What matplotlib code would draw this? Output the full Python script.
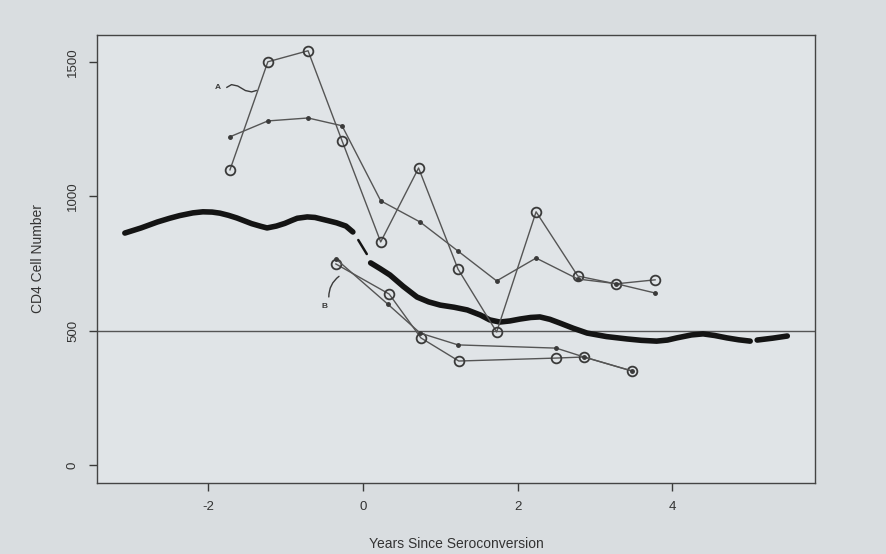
import matplotlib.pyplot as plt

plt.rcParams['font.family'] = ['Liberation Sans', 'DejaVu Sans']

# subject A: observed counts (circles) and smoothed fit (dots)
a_years = [-1.72, -1.23, -0.71, -0.27, 0.23, 0.72, 1.23, 1.73, 2.24, 2.78, 3.27, 3.78]
a_obs = [1098, 1500, 1541, 1206, 830, 1105, 729, 495, 942, 703, 674, 689]
a_fit_years = [-1.72, -1.23, -0.71, -0.27, 0.23, 0.74, 1.23, 1.73, 2.24, 2.78, 3.27, 3.78]
a_fit = [1221, 1280, 1291, 1262, 983, 904, 796, 685, 770, 692, 675, 640]

# subject B
b_years = [-0.35, 0.34, 0.75, 1.24, 2.50, 2.86, 3.48]
b_obs = [748, 636, 473, 387, 398, 402, 350]
b_fit_years = [-0.35, 0.32, 0.74, 1.23, 2.50, 2.86, 3.48]
b_fit = [767, 599, 491, 447, 435, 402, 350]

# population mean curve, before and after seroconversion
pre_x = [-3.08, -2.87, -2.66, -2.50, -2.37, -2.20, -2.07, -1.95, -1.85, -1.74, -1.63, -1.44, -1.32,
         -1.24, -1.12, -1.01, -0.92, -0.85, -0.72, -0.62, -0.55, -0.45, -0.34, -0.22, -0.13]
pre_y = [863, 882, 904, 918, 928, 938, 942, 941, 937, 929, 919, 898, 888, 882, 889, 899, 910, 918, 923,
         921, 916, 909, 901, 889, 867]
gap_x = [-0.06, 0.05]
gap_y = [837, 785]
post_x = [0.10, 0.22, 0.35, 0.52, 0.70, 0.85, 1.00, 1.18, 1.35, 1.52, 1.64, 1.77, 1.90, 2.03, 2.17, 2.29,
          2.42, 2.55, 2.72, 2.90, 3.15, 3.42, 3.60, 3.80, 3.94, 4.06, 4.25, 4.40, 4.55, 4.71, 4.86, 5.01]
post_y = [752, 731, 707, 665, 625, 607, 595, 587, 577, 558, 540, 532, 536, 543, 549, 551, 542, 528, 509,
          491, 478, 469, 464, 461, 465, 473, 484, 488, 482, 473, 466, 461]
tail_x = [5.10, 5.30, 5.49]
tail_y = [465, 472, 480]

threshold = 500

ink = '#3a3a3a'
fig = plt.figure(figsize=(8.86, 5.54), dpi=100, facecolor='#d9dde0')
ax = fig.add_axes([0.1095, 0.128, 0.8105, 0.809])
ax.set_facecolor('#e0e4e7')

ax.axhline(threshold, color='#555555', lw=1.0)

# mean curve
for xs, ys, w in [(pre_x, pre_y, 4.0), (gap_x, gap_y, 1.8), (post_x, post_y, 4.0), (tail_x, tail_y, 4.0)]:
    ax.plot(xs, ys, color='#141414', lw=w, solid_capstyle='round', solid_joinstyle='round')

# individual profiles
line_kw = dict(color='#555555', lw=1.0)
ax.plot(a_years, a_obs, marker='o', ms=7, mfc='none', mec=ink, mew=1.3, **line_kw)
ax.plot(a_fit_years, a_fit, marker='o', ms=2.5, mfc=ink, mec=ink, **line_kw)
ax.plot(b_years, b_obs, marker='o', ms=7, mfc='none', mec=ink, mew=1.3, **line_kw)
ax.plot(b_fit_years, b_fit, marker='o', ms=2.5, mfc=ink, mec=ink, **line_kw)

# subject labels with hand-drawn pointers
ax.text(-1.88, 1403, 'A', fontsize=6, color=ink, ha='center', va='center', fontweight='bold')
ax.plot([-1.76, -1.70, -1.62, -1.52, -1.44, -1.38], [1405, 1415, 1410, 1393, 1388, 1393], color=ink, lw=1.0)
ax.text(-0.50, 588, 'B', fontsize=6, color=ink, ha='center', va='center', fontweight='bold')
ax.annotate('', xy=(-0.28, 708), xytext=(-0.44, 615),
            arrowprops=dict(arrowstyle='-', color=ink, lw=1.0, connectionstyle='arc3,rad=-0.3'))

ax.set_xlim(-3.44, 5.85)
ax.set_ylim(-67, 1600)
ax.set_xticks([-2, 0, 2, 4])
ax.set_xticklabels(['-2', '0', '2', '4'])
ax.set_yticks([0, 500, 1000, 1500])
ax.set_yticklabels(['0', '500', '1000', '1500'], rotation=90, va='center')
ax.tick_params(direction='out', length=6, width=1, color=ink, labelcolor='#333333', labelsize=9.5, pad=7)
for s in ax.spines.values():
    s.set_color('#444444')
    s.set_linewidth(1.0)

ax.set_xlabel('Years Since Seroconversion', fontsize=10, color='#333333', labelpad=17)
ax.set_ylabel('CD4 Cell Number', fontsize=10, color='#333333', labelpad=16)

fig.savefig('out.png', dpi=100, facecolor=fig.get_facecolor())
